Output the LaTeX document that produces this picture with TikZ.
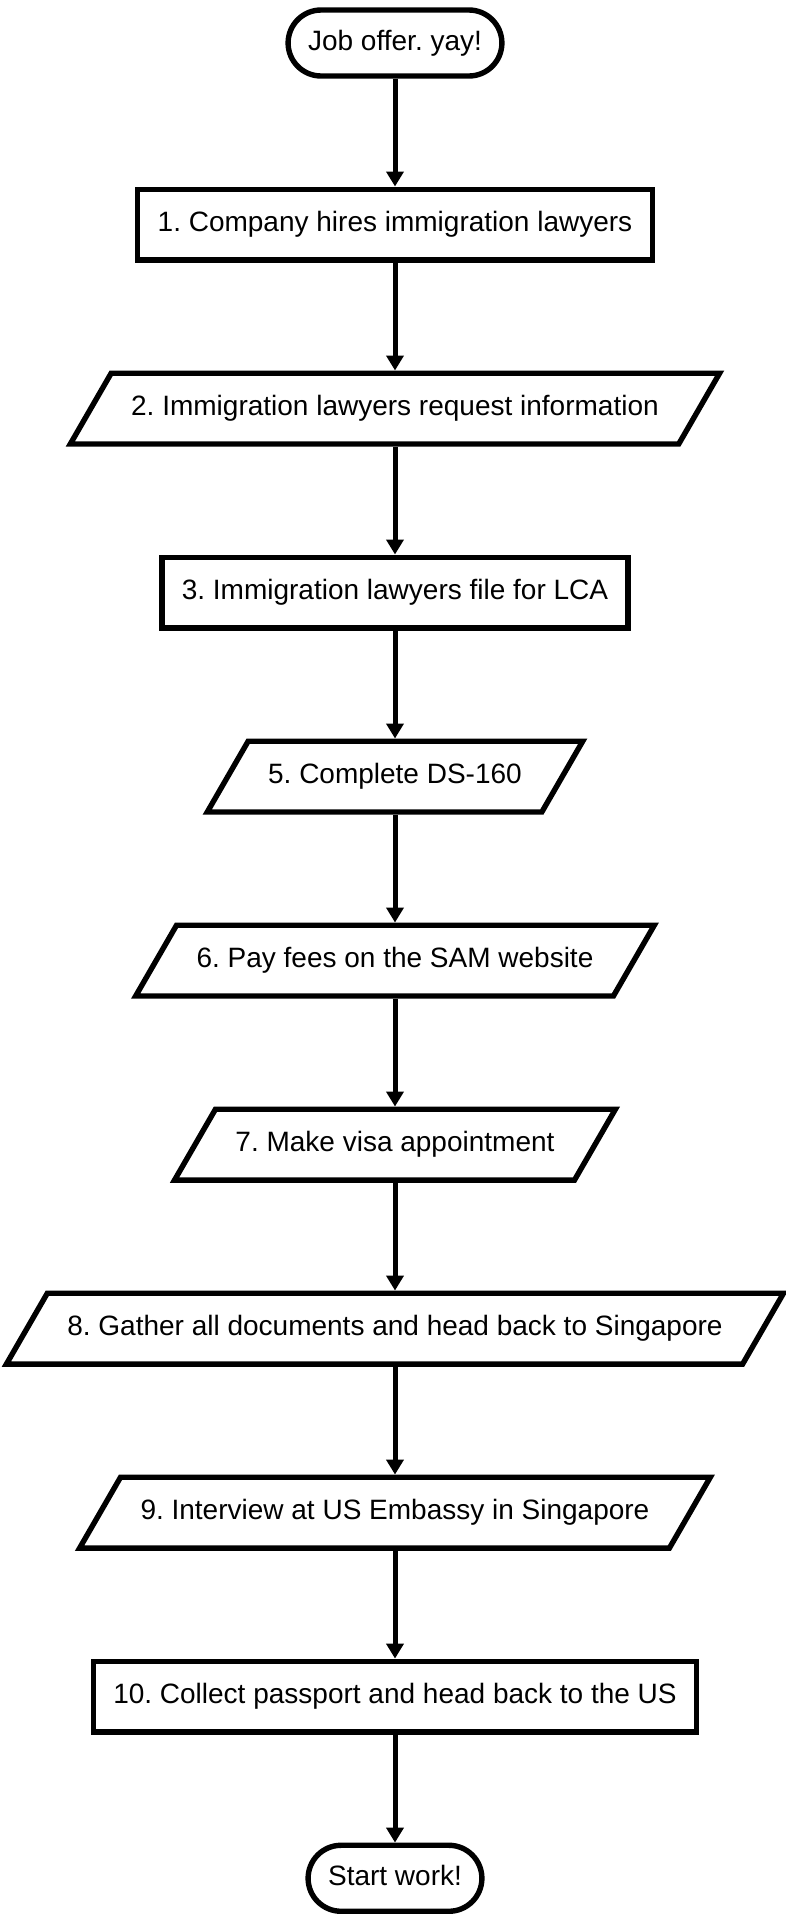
\documentclass[tikz,border=0pt]{standalone}
\usepackage{fontspec}
\setmainfont{Liberation Sans}
\frenchspacing
\usetikzlibrary{shapes,arrows.meta,positioning}
\tikzstyle{terminal}=[rectangle,draw=black,line width=2.7pt,rounded corners=16.5pt,inner xsep=10pt,inner ysep=10pt,text height=10pt,text depth=3pt]
\tikzstyle{process}=[rectangle,draw=black,line width=2.7pt,inner xsep=10pt,inner ysep=11.2pt,text height=10pt,text depth=3pt]
\tikzstyle{io}=[trapezium,trapezium left angle=60,trapezium right angle=120,draw=black,line width=2.7pt,inner xsep=10pt,inner ysep=11.2pt,text height=10pt,text depth=3pt]
\tikzstyle{flow}=[->,line width=2.5pt]

\begin{document}
\begin{tikzpicture}[>={Triangle[length=7.5pt,width=8.5pt]}, node distance=53.9pt, font=\fontsize{14}{17}\selectfont]
    \useasboundingbox (0,0) rectangle (393pt,-959pt);

    \node[terminal](offer) at (197.5pt,-21.5pt){Job offer. yay!};
    \node[process](hire)[below=of offer]{1. Company hires immigration lawyers};
    \node[io](request)[below=of hire]{2. Immigration lawyers request information};
    \node[process](lca)[below=of request]{3. Immigration lawyers file for LCA};
    \node[io](ds160)[below=of lca]{5. Complete DS-160};
    \node[io](fees)[below=of ds160]{6. Pay fees on the SAM website};
    \node[io](appt)[below=of fees]{7. Make visa appointment};
    \node[io](gather)[below=of appt]{8. Gather all documents and head back to Singapore};
    \node[io](interview)[below=of gather]{9. Interview at US Embassy in Singapore};
    \node[process](collect)[below=of interview]{10. Collect passport and head back to the US};
    \node[terminal](work)[below=of collect]{Start work!};

    \draw[flow](offer.south) -- (hire.north);
    \draw[flow](hire.south) -- (request.north);
    \draw[flow](request.south) -- (lca.north);
    \draw[flow](lca.south) -- (ds160.north);
    \draw[flow](ds160.south) -- (fees.north);
    \draw[flow](fees.south) -- (appt.north);
    \draw[flow](appt.south) -- (gather.north);
    \draw[flow](gather.south) -- (interview.north);
    \draw[flow](interview.south) -- (collect.north);
    \draw[flow](collect.south) -- (work.north);
  \end{tikzpicture}
\end{document}
